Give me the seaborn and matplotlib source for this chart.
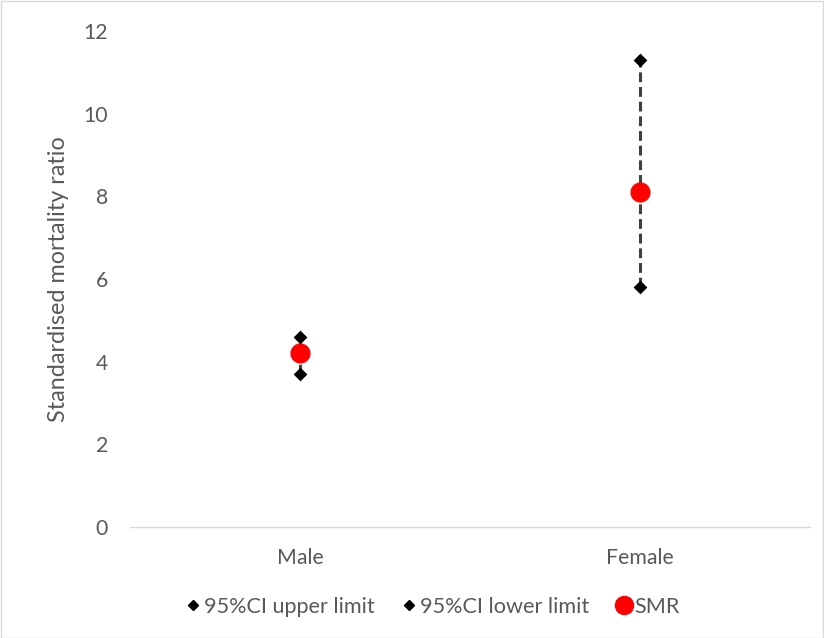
import matplotlib
matplotlib.use("Agg")
import matplotlib.pyplot as plt
from matplotlib.lines import Line2D
from matplotlib.patches import Rectangle
import seaborn as sns
import pandas as pd

# Standardised mortality ratios with 95% confidence limits by sex
categories = ["Male", "Female"]
ci_upper = [4.6, 11.3]
ci_lower = [3.7, 5.8]
smr = [4.2, 8.1]

sns.set_theme(style="white")
plt.rcParams["font.family"] = ["Lato", "DejaVu Sans"]
text_color = "#595959"

df = pd.DataFrame({"sex": categories, "upper": ci_upper, "lower": ci_lower, "smr": smr})

fig = plt.figure(figsize=(8.24, 6.38), dpi=100)
ax = fig.add_axes([130 / 824, 111 / 638, 680 / 824, 496 / 638])

# dashed hi-lo lines joining the confidence limits
positions = list(range(len(categories)))
ax.vlines(positions, df["lower"], df["upper"], colors="#404040",
          linestyles=(0, (3.2, 1.6)), linewidth=2.2, zorder=1)

sns.stripplot(data=df, x="sex", y="upper", ax=ax, jitter=False, marker="D",
              color="black", size=7, zorder=3)
sns.stripplot(data=df, x="sex", y="lower", ax=ax, jitter=False, marker="D",
              color="black", size=7, zorder=3)
sns.stripplot(data=df, x="sex", y="smr", ax=ax, jitter=False, marker="o",
              color="#ff0000", size=14.5, zorder=4)

ax.set_xlim(-0.5, 1.5)
ax.set_ylim(0, 12)
ax.set_yticks([0, 2, 4, 6, 8, 10, 12])
ax.set_xlabel("")
ax.set_ylabel("Standardised mortality ratio", color=text_color, fontsize=16.8, labelpad=10)
ax.tick_params(axis="both", colors=text_color, labelsize=15.3, length=0)
ax.tick_params(axis="y", pad=16)
ax.tick_params(axis="x", pad=15)

for side in ["top", "right", "left"]:
    ax.spines[side].set_visible(False)
ax.spines["bottom"].set_color("#d9d9d9")
ax.spines["bottom"].set_linewidth(1.0)

handles = [
    Line2D([], [], marker="D", color="black", linestyle="none", markersize=5),
    Line2D([], [], marker="D", color="black", linestyle="none", markersize=5),
    Line2D([], [], marker="o", color="#ff0000", linestyle="none", markersize=13),
]
labels = ["95%CI upper limit", "95%CI lower limit", "SMR"]
leg = fig.legend(handles, labels, loc="center", bbox_to_anchor=(431 / 824, 1 - 607 / 638),
                 ncol=3, frameon=False, fontsize=15.6, handletextpad=0.0,
                 columnspacing=1.1, handlelength=1.0)
for t in leg.get_texts():
    t.set_color(text_color)

# thin outer border of the chart area
fig.patches.append(Rectangle((0.5 / 824, 0.5 / 638), 1 - 1.5 / 824, 1 - 1.5 / 638,
                             transform=fig.transFigure, fill=False,
                             edgecolor="#d9d9d9", linewidth=1.0))

fig.savefig("out.png", dpi=100)
